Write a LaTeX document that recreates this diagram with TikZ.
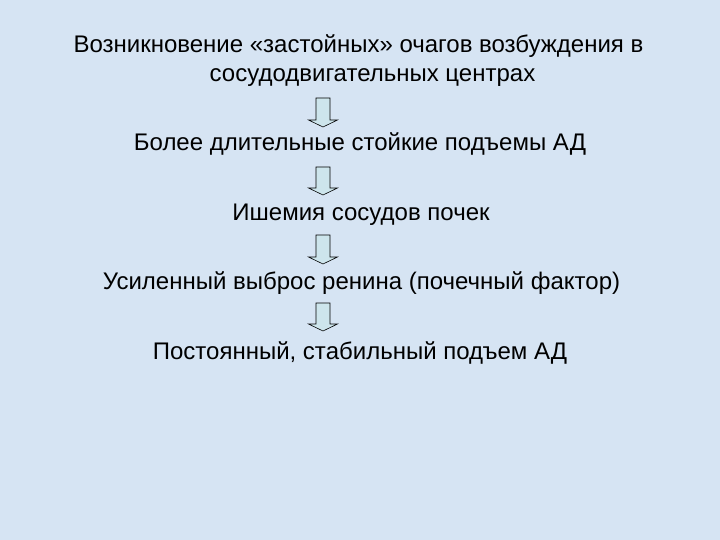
\documentclass[tikz,border=0pt]{standalone}
\usepackage{fontspec}
\setmainfont{Liberation Sans}
\definecolor{bgc}{HTML}{D6E4F3}
\definecolor{arrc}{HTML}{CDE5EC}
\tikzset{
  txt/.style={font=\fontsize{24}{28}\selectfont, inner sep=0pt, anchor=base},
  blockarr/.style={draw=black, fill=arrc, line width=0.6pt, line join=miter}
}
\newcommand{\blockarrow}[3]{% x, top y, tip y
  \pgfmathsetmacro{\hb}{#3-7}
  \draw[blockarr] (#1-7,-#2) -- (#1+7,-#2) -- (#1+7,-\hb) -- (#1+14.5,-\hb) -- (#1,-#3) -- (#1-14.5,-\hb) -- (#1-7,-\hb) -- cycle;
}
\begin{document}
\begin{tikzpicture}[x=1pt,y=1pt]
\fill[bgc] (0,0) rectangle (720,-540);
\useasboundingbox (0,0) rectangle (720,-540);
\node[txt] (l1) at (358.5,-52.5) {Возникновение «застойных» очагов возбуждения в};
\node[txt] (l2) at (372.5,-81.5) {сосудодвигательных центрах};
\node[txt] (l3) at (360,-151) {Более длительные стойкие подъемы АД};
\node[txt] (l4) at (361,-220.5) {Ишемия сосудов почек};
\node[txt] (l5) at (361.5,-289) {Усиленный выброс ренина (почечный фактор)};
\node[txt] (l6) at (360,-359) {Постоянный, стабильный подъем АД};
\blockarrow{323}{98}{127}
\blockarrow{323}{167}{195}
\blockarrow{323}{235}{264}
\blockarrow{323}{303}{331}
\end{tikzpicture}
\end{document}
